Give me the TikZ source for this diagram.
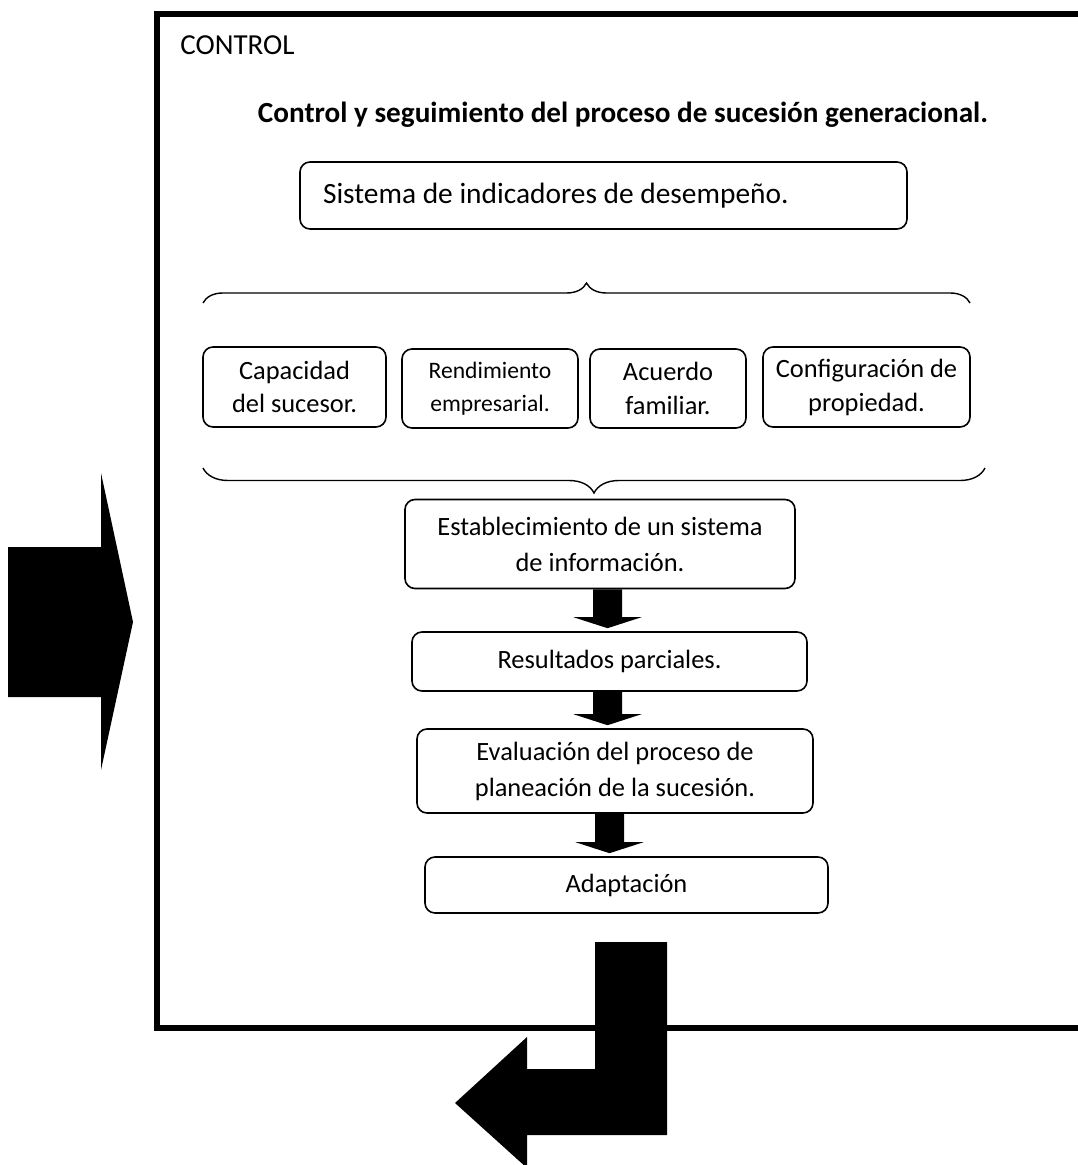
\documentclass[tikz,border=0pt]{standalone}
\usepackage{fontspec}
\setmainfont{Carlito}
\usetikzlibrary{calc,decorations.pathreplacing}

% block arrow pointing down from one box to the next, at a given x
\newcommand{\blockdown}[3]{%
	\coordinate (ax) at (#3,0);
	\fill ($(ax |- #1.south)+(-14.5,0)$) -- ($(ax |- #2.north)+(-14.5,-14)$)
		-- ($(ax |- #2.north)+(-34,-14)$) -- ($(ax |- #2.north)+(0,-3)$)
		-- ($(ax |- #2.north)+(34,-14)$) -- ($(ax |- #2.north)+(14.5,-14)$)
		-- ($(ax |- #1.south)+(14.5,0)$) -- cycle;}

\begin{document}
\begin{tikzpicture}[
		x=0.5pt,
		y=-0.5pt,
		box/.style={
			draw,
			rectangle,
			rounded corners=5pt,
			line width=0.8pt,
			align=center,
			inner sep=0pt,
			font=\fontsize{13.2}{18}\selectfont
		},
		curlybrace/.style={
			decorate,
			decoration={brace,amplitude=#1},
			line width=0.7pt
		}
		]
		\useasboundingbox (0,0) rectangle (1077,1165);
		
		% frame, open on the right
		\draw[line width=2.8pt] (1090,14) -- (157,14) -- (157,1028) -- (1090,1028);
		
		\node[anchor=base west,inner sep=0pt,font=\fontsize{14.5}{17}\selectfont] (control) at (180,55) {CONTROL};
		\node[anchor=base,inner sep=0pt,font=\fontsize{14.6}{18}\bfseries] (title) at (623,123) {Control y seguimiento del proceso de sucesión generacional.};
		
		\node[box,
			  minimum width=303.5pt,
			  minimum height=33.5pt,
			  text width=280.5pt,
			  align=flush left,
			  font=\fontsize{14.7}{18}\selectfont] (sistema) at (603.5,195.5) {Sistema de indicadores de desempeño.};
		
		\draw[curlybrace=10pt] (203,303) -- (970,303);
		
		\node[box,
			  minimum width=91.5pt,
			  minimum height=40pt,
			  font=\fontsize{13.2}{16.5}\selectfont] (capacidad) at (294.5,387) {Capacidad\\del sucesor.};
		\node[box,
			  minimum width=88pt,
			  minimum height=39.5pt,
			  font=\fontsize{11.8}{16.5}\selectfont] (rendimiento) at (490,388.5) {Rendimiento\\empresarial.};
		\node[box,
			  minimum width=78pt,
			  minimum height=39.5pt,
			  font=\fontsize{13.2}{17}\selectfont] (acuerdo) at (668,388.5) {Acuerdo\\familiar.};
		\node[box,
			  minimum width=103.5pt,
			  minimum height=40pt,
			  font=\fontsize{13.2}{17}\selectfont] (configuracion) at (866.5,387) {Configuración de\\propiedad.};
		
		\draw[curlybrace=12.5pt] (985,468) -- (203,468);
		
		\node[box,
			  minimum width=195pt,
			  minimum height=44.5pt] (establecimiento) at (600,544) {Establecimiento de un sistema\\de información.};
		\node[box,
			  minimum width=197.5pt,
			  minimum height=29.5pt] (resultados) at (609.5,661.5) {Resultados parciales.};
		\node[box,
			  minimum width=198pt,
			  minimum height=42pt] (evaluacion) at (615,771) {Evaluación del proceso de\\planeación de la sucesión.};
		\node[box,
			  minimum width=201.5pt,
			  minimum height=28pt] (adaptacion) at (626.5,885) {Adaptación};
		
		\blockdown{establecimiento}{resultados}{607.5}
		\blockdown{resultados}{evaluacion}{607.5}
		\blockdown{evaluacion}{adaptacion}{609.5}
		
		% entry arrow on the left
		\fill (8,547) -- (101,547) -- (101,473) -- (133,622) -- (101,770) -- (101,697) -- (8,697) -- cycle;
		% exit arrow, bent to the left
		\fill (595,942) -- (667,942) -- (667,1135) -- (527,1135) -- (527,1168) -- (455,1103) -- (527,1037) -- (527,1069) -- (595,1069) -- cycle;
\end{tikzpicture}
\end{document}
